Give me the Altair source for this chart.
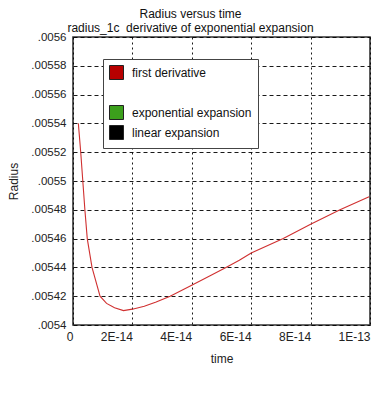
import altair as alt
import pandas as pd

# curve data (time in seconds, radius)
times = [1.8e-15, 2.6e-15, 3.3e-15, 4.0e-15, 4.8e-15, 6.4e-15, 9.1e-15, 11.3e-15,
         14e-15, 17e-15, 20e-15, 24e-15, 28e-15, 32.7e-15, 40.3e-15, 46e-15,
         51.5e-15, 56e-15, 60e-15, 70.8e-15, 80e-15, 89.9e-15, 99.7e-15]
radius = [0.00554, 0.00552, 0.00550, 0.00548, 0.00546, 0.00544, 0.00542, 0.005415,
          0.005412, 0.00541, 0.005411, 0.005413, 0.005416, 0.00542, 0.005428, 0.005434,
          0.00544, 0.005445, 0.00545, 0.00546, 0.00547, 0.00548, 0.005489]

legend_labels = ["first derivative", " ", "exponential expansion", "linear expansion"]
legend_colors = ["#b80000", "#ffffff", "#3ca01c", "#000000"]
legend_borders = ["#222222", "#ffffff", "#222222", "#222222"]

x_ticks = [0, 2e-14, 4e-14, 6e-14, 8e-14, 1e-13]
y_ticks = [0.0054, 0.00542, 0.00544, 0.00546, 0.00548, 0.0055,
           0.00552, 0.00554, 0.00556, 0.00558, 0.0056]

curve = pd.DataFrame({"time": times, "radius": radius})
leg = pd.DataFrame({"series": legend_labels})

FONT = "Liberation Sans"

x_enc = alt.X(
    "time:Q",
    scale=alt.Scale(domain=[0, 1e-13], nice=False, zero=False),
    axis=alt.Axis(
        values=x_ticks,
        labelExpr="datum.value == 0 ? '0' : upper(format(datum.value, '.0e'))",
        labelAlign="right", labelPadding=6, labelFontSize=12,
        labelFont=FONT, labelColor="#222",
        ticks=False, domain=False,
        grid=True, gridDash=[2, 3], gridColor="#000", gridOpacity=0.9, gridWidth=1,
        title="time", titleFont=FONT, titleFontSize=12, titleFontWeight="normal",
        titleColor="#222", titleY=33, titleBaseline="middle",
    ),
)
y_enc = alt.Y(
    "radius:Q",
    scale=alt.Scale(domain=[0.0054, 0.0056], nice=False, zero=False),
    axis=alt.Axis(
        values=y_ticks,
        labelExpr="slice(format(datum.value, '.5~f'), 1)",
        labelPadding=7, labelFontSize=11.5, labelFont=FONT, labelColor="#222",
        ticks=False, domain=False,
        grid=True, gridDash=[4, 3], gridColor="#000", gridOpacity=0.9, gridWidth=1,
        title="Radius", titleFont=FONT, titleFontSize=12, titleFontWeight="normal",
        titleColor="#222", titleX=-60, titleBaseline="middle",
    ),
)

line = alt.Chart(curve).mark_line(color="#d03030", strokeWidth=1.1).encode(
    x=x_enc, y=y_enc
)

leg_props = dict(
    title=None, orient="none", legendX=30, legendY=22,
    symbolType="square", symbolSize=196, symbolOpacity=1,
    symbolStrokeWidth=1,
    labelFont=FONT, labelFontSize=12, labelColor="#111", labelOffset=8,
    rowPadding=1, padding=6, fillColor="white", strokeColor="#444",
    labelLimit=300,
)

legend_layer = alt.Chart(leg).mark_point(shape="square", filled=True, opacity=0).encode(
    color=alt.Color(
        "series:N",
        scale=alt.Scale(domain=legend_labels, range=legend_colors),
        legend=alt.Legend(**leg_props),
    ),
    stroke=alt.Stroke(
        "series:N",
        scale=alt.Scale(domain=legend_labels, range=legend_borders),
        legend=alt.Legend(**leg_props),
    ),
)

chart = alt.layer(line, legend_layer).properties(
    width=297, height=288,
    autosize=alt.AutoSizeParams(type="none"),
    padding={"left": 65, "top": 29, "right": 3, "bottom": 60},
    title=alt.TitleParams(
        text=["Radius versus time", "radius_1c\u00a0 derivative of exponential expansion"],
        font=FONT, fontSize=12, fontWeight="normal", color="#111",
        anchor="middle", dx=-31, offset=-4, lineHeight=14,
    ),
    background="white",
).configure_view(stroke="#333", strokeWidth=1.6)

chart.save("out.html", embed_options={"renderer": "svg", "actions": False})
